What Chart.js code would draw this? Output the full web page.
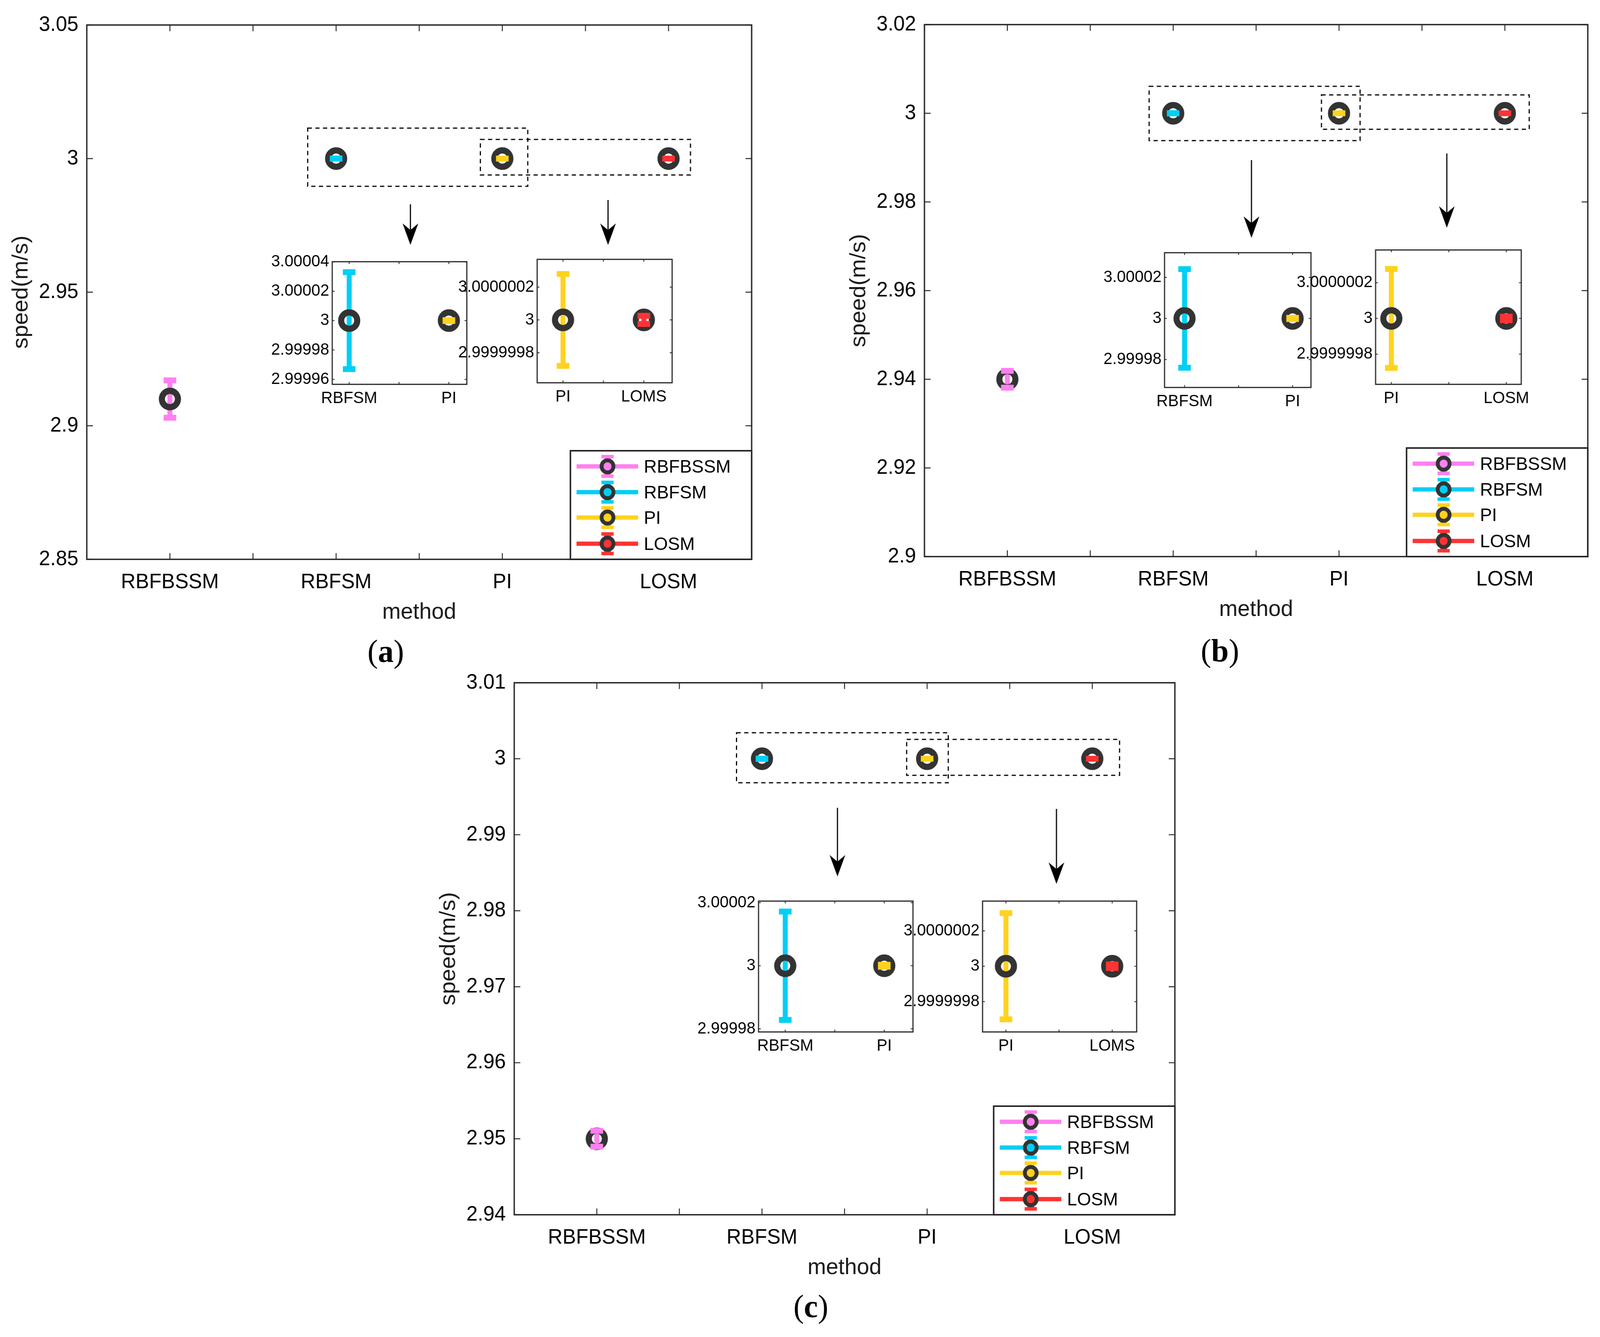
<!DOCTYPE html>
<html><head><meta charset="utf-8">
<script src="https://cdn.jsdelivr.net/npm/chart.js@4.4.1/dist/chart.umd.min.js"></script>
<style>
html,body{margin:0;padding:0;background:#fff;overflow:hidden;}
#page{width:4185px;height:3423px;position:relative;overflow:hidden;background:#fff;transform-origin:0 0;}
canvas{position:absolute;}
.plab{position:absolute;font-family:'Liberation Serif','DejaVu Serif',serif;font-size:82px;color:#000;transform:translate(-50%,-50%);line-height:1;white-space:nowrap;}
.plab b{font-weight:bold;}
</style></head><body>
<div id="page">
<canvas id="mainA"></canvas>
<canvas id="mainB"></canvas>
<canvas id="mainC"></canvas>
<canvas id="insA1"></canvas>
<canvas id="insA2"></canvas>
<canvas id="insB1"></canvas>
<canvas id="insB2"></canvas>
<canvas id="insC1"></canvas>
<canvas id="insC2"></canvas>
<div class="plab" style="left:1009px;top:1668px">(<b>a</b>)</div>
<div class="plab" style="left:3191px;top:1666px">(<b>b</b>)</div>
<div class="plab" style="left:2121px;top:3345px">(<b>c</b>)</div>
</div>
<script>
// ---------------- data ----------------
const methods = ['RBFBSSM', 'RBFSM', 'PI', 'LOSM'];
const seriesColors = ['#ff80f0', '#00cff5', '#ffd21e', '#ff3333'];

const speedA = [2.91, 3, 3, 3];
const errA   = [0.007, 0.000033, 0.00000028, 0.000000025];
const speedB = [2.94, 3, 3, 3];
const errB   = [0.0019, 0.000024, 0.000000277, 0.00000001];
const speedC = [2.95, 3, 3, 3];
const errC   = [0.00105, 0.0000172, 0.0000003, 0.00000001];

const xTickVals = [0.5, 1, 1.5, 2, 2.5, 3, 3.5, 4, 4.5];
const xTickLabels = ['', 'RBFBSSM', '', 'RBFSM', '', 'PI', '', 'LOSM', ''];

const yTicksA = [2.85, 2.9, 2.95, 3, 3.05];
const yLabelsA = ['2.85', '2.9', '2.95', '3', '3.05'];
const yTicksB = [2.9, 2.92, 2.94, 2.96, 2.98, 3, 3.02];
const yLabelsB = ['2.9', '2.92', '2.94', '2.96', '2.98', '3', '3.02'];
const yTicksC = [2.94, 2.95, 2.96, 2.97, 2.98, 2.99, 3, 3.01];
const yLabelsC = ['2.94', '2.95', '2.96', '2.97', '2.98', '2.99', '3', '3.01'];

const insetXTicks = [1, 1.5, 2];
const insetLabels1 = ['RBFSM', '', 'PI'];
const insetLabels2a = ['PI', '', 'LOMS'];
const insetLabels2b = ['PI', '', 'LOSM'];
const insetLabels2c = ['PI', '', 'LOMS'];

const iTicksA1 = [2.99996, 2.99998, 3, 3.00002, 3.00004];
const iLabelsA1 = ['2.99996', '2.99998', '3', '3.00002', '3.00004'];
const iTicksA2 = [2.9999998, 3, 3.0000002];
const iLabelsA2 = ['2.9999998', '3', '3.0000002'];
const iTicksB1 = [2.99998, 3, 3.00002];
const iLabelsB1 = ['2.99998', '3', '3.00002'];
const iTicksB2 = [2.9999998, 3, 3.0000002];
const iLabelsB2 = ['2.9999998', '3', '3.0000002'];
const iTicksC1 = [2.99998, 3, 3.00002];
const iLabelsC1 = ['2.99998', '3', '3.00002'];
const iTicksC2 = [2.9999998, 3, 3.0000002];
const iLabelsC2 = ['2.9999998', '3', '3.0000002'];

// zoom-region annotations (data units): boxes [x1, x2, y1, y2], arrows [x, yStart, yEnd]
const zoomBoxesA = [[1.829, 3.153, 2.98962, 3.01140], [2.868, 4.132, 2.99386, 3.00716]];
const zoomArrowsA = [[2.447, 2.98289, 2.96769], [3.636, 2.98450, 2.96769]];
const zoomBoxesB = [[1.855, 3.127, 2.99383, 3.00608], [2.894, 4.147, 2.99639, 3.00414]];
const zoomArrowsB = [[2.472, 2.98943, 2.97189], [3.650, 2.99093, 2.97419]];
const zoomBoxesC = [[1.846, 3.128, 2.99684, 3.00342], [2.876, 4.165, 2.99782, 3.00255]];
const zoomArrowsC = [[2.457, 2.99355, 2.98451], [3.783, 2.99340, 2.98353]];

// ---------------- drawing helpers ----------------
const FONT = "'Liberation Sans', Arial, sans-serif";
const AX = '#262626';
const RING = '#333333';

function barGeom(chart, errs) {
  const xs = chart.scales.x, ys = chart.scales.y;
  return chart.data.datasets.map((ds, i) => {
    const p = ds.data[0];
    return { px: xs.getPixelForValue(p.x),
             yt: ys.getPixelForValue(p.y + errs[i]),
             yb: ys.getPixelForValue(p.y - errs[i]) };
  });
}
function drawStems(chart, errs, colors) {
  const ctx = chart.ctx;
  ctx.save(); ctx.lineCap = 'butt'; ctx.lineWidth = 13;
  barGeom(chart, errs).forEach((g, i) => {
    ctx.strokeStyle = colors[i];
    ctx.beginPath(); ctx.moveTo(g.px, g.yt); ctx.lineTo(g.px, g.yb); ctx.stroke();
  });
  ctx.restore();
}
function drawCaps(chart, errs, colors) {
  const ctx = chart.ctx;
  ctx.save(); ctx.lineCap = 'butt'; ctx.lineWidth = 15;
  barGeom(chart, errs).forEach((g, i) => {
    ctx.strokeStyle = colors[i];
    ctx.beginPath();
    ctx.moveTo(g.px - 16.5, g.yt); ctx.lineTo(g.px + 16.5, g.yt);
    ctx.moveTo(g.px - 16.5, g.yb); ctx.lineTo(g.px + 16.5, g.yb);
    ctx.stroke();
  });
  ctx.restore();
}

function drawFrame(chart, xt, yt, tickLen, lw) {
  const ctx = chart.ctx, a = chart.chartArea, xs = chart.scales.x, ys = chart.scales.y;
  ctx.save();
  ctx.strokeStyle = AX;
  ctx.lineWidth = lw;
  ctx.strokeRect(a.left, a.top, a.right - a.left, a.bottom - a.top);
  ctx.lineWidth = Math.max(2, lw * 0.7);
  ctx.beginPath();
  xt.forEach(v => {
    const x = xs.getPixelForValue(v);
    ctx.moveTo(x, a.bottom); ctx.lineTo(x, a.bottom - tickLen);
    ctx.moveTo(x, a.top); ctx.lineTo(x, a.top + tickLen);
  });
  yt.forEach(v => {
    const y = ys.getPixelForValue(v);
    ctx.moveTo(a.left, y); ctx.lineTo(a.left + tickLen, y);
    ctx.moveTo(a.right, y); ctx.lineTo(a.right - tickLen, y);
  });
  ctx.stroke();
  ctx.restore();
}

function drawZoomMarks(chart, boxes, arrows) {
  const ctx = chart.ctx, xs = chart.scales.x, ys = chart.scales.y;
  ctx.save();
  ctx.strokeStyle = '#000';
  ctx.lineWidth = 3;
  ctx.setLineDash([11, 9]);
  boxes.forEach(b => {
    const x1 = xs.getPixelForValue(b[0]), x2 = xs.getPixelForValue(b[1]);
    const y1 = ys.getPixelForValue(b[3]), y2 = ys.getPixelForValue(b[2]);
    ctx.strokeRect(x1, y1, x2 - x1, y2 - y1);
  });
  ctx.setLineDash([]);
  arrows.forEach(ar => {
    const x = xs.getPixelForValue(ar[0]);
    const y1 = ys.getPixelForValue(ar[1]), y2 = ys.getPixelForValue(ar[2]);
    ctx.lineWidth = 3;
    ctx.beginPath(); ctx.moveTo(x, y1); ctx.lineTo(x, y2 - 30); ctx.stroke();
    ctx.fillStyle = '#000';
    ctx.beginPath();
    ctx.moveTo(x, y2);
    ctx.lineTo(x - 20.5, y2 - 55);
    ctx.lineTo(x, y2 - 38);
    ctx.lineTo(x + 20.5, y2 - 55);
    ctx.closePath();
    ctx.fill();
  });
  ctx.restore();
}

function drawLegend(chart, colors) {
  const ctx = chart.ctx, a = chart.chartArea;
  const W = 474, H = 278;
  const bx = a.right - W, by = a.bottom - H;
  const rows = [40, 106, 171, 238];
  ctx.save();
  ctx.fillStyle = '#fff';
  ctx.fillRect(bx, by, W, H);
  ctx.strokeStyle = AX;
  ctx.lineWidth = 4;
  ctx.strokeRect(bx, by, W, H);
  methods.forEach((m, i) => {
    const y = by + rows[i];
    const mx = bx + 97;
    ctx.strokeStyle = colors[i];
    ctx.lineWidth = 11;
    ctx.beginPath(); ctx.moveTo(bx + 16, y); ctx.lineTo(bx + 177, y); ctx.stroke();
    ctx.lineWidth = 18;
    ctx.beginPath(); ctx.moveTo(mx, y - 29); ctx.lineTo(mx, y + 29); ctx.stroke();
    ctx.lineWidth = 9;
    ctx.beginPath();
    ctx.moveTo(mx - 16, y - 25); ctx.lineTo(mx + 16, y - 25);
    ctx.moveTo(mx - 16, y + 25); ctx.lineTo(mx + 16, y + 25);
    ctx.stroke();
    ctx.beginPath(); ctx.arc(mx, y, 15.5, 0, Math.PI * 2);
    ctx.fillStyle = colors[i]; ctx.fill();
    ctx.strokeStyle = RING; ctx.lineWidth = 10; ctx.stroke();
    ctx.fillStyle = '#000';
    ctx.font = '47px ' + FONT;
    ctx.textBaseline = 'middle';
    ctx.textAlign = 'left';
    ctx.fillText(m, bx + 192, y + 3);
  });
  ctx.restore();
}

function makeDatasets(means, idx, xs) {
  return idx.map((k, j) => ({
    label: methods[k],
    data: [{ x: xs[j], y: means[k] }],
    pointRadius: 21, pointHoverRadius: 21,
    pointBorderWidth: 16, pointHoverBorderWidth: 16,
    pointBorderColor: RING,
    pointBackgroundColor: 'rgba(0,0,0,0)',
    clip: false
  }));
}

function place(canvas, x, y, w, h) {
  canvas.width = w; canvas.height = h;
  canvas.style.left = x + 'px'; canvas.style.top = y + 'px';
  canvas.style.width = w + 'px'; canvas.style.height = h + 'px';
}

// ---------------- main panels ----------------
function mainPanel(id, area, means, errs, yTicks, yLabels, boxes, arrows) {
  const yW = 230, padTop = 60, padRight = 36, xH = 200;
  const cv = document.getElementById(id);
  place(cv, area.L - yW, area.T - padTop, yW + (area.R - area.L) + padRight, padTop + (area.B - area.T) + xH);
  new Chart(cv, {
    type: 'scatter',
    data: { datasets: makeDatasets(means, [0, 1, 2, 3], [1, 2, 3, 4]) },
    options: {
      responsive: false, animation: false, devicePixelRatio: 1, events: [],
      layout: { padding: { left: 0, top: padTop, right: padRight, bottom: 0 } },
      plugins: { legend: { display: false }, tooltip: { enabled: false } },
      scales: {
        x: {
          type: 'linear', min: 0.5, max: 4.5,
          afterBuildTicks: s => { s.ticks = xTickVals.map(v => ({ value: v })); },
          afterFit: s => { s.height = xH; },
          grid: { display: false, drawTicks: false }, border: { display: false },
          ticks: { autoSkip: false, maxRotation: 0, minRotation: 0, padding: 28, color: '#000',
                   font: { family: FONT, size: 53 }, callback: (v, i) => xTickLabels[i] },
          title: { display: true, text: 'method', color: '#1a1a1a', font: { family: FONT, size: 58 },
                   padding: { top: 0, bottom: 29 } }
        },
        y: {
          type: 'linear', min: yTicks[0], max: yTicks[yTicks.length - 1],
          afterBuildTicks: s => { s.ticks = yTicks.map(v => ({ value: v })); },
          afterFit: s => { s.width = yW; },
          grid: { display: false, drawTicks: false }, border: { display: false },
          ticks: { autoSkip: false, padding: 22, color: '#000',
                   font: { family: FONT, size: 53 }, callback: (v, i) => yLabels[i] },
          title: { display: true, text: 'speed(m/s)', color: '#1a1a1a', font: { family: FONT, size: 58 },
                   padding: { top: yW - 171 - 34.8, bottom: 0 } }
        }
      }
    },
    plugins: [{
      id: 'deco_' + id,
      beforeDatasetsDraw(chart) { drawStems(chart, errs, seriesColors); },
      afterDatasetsDraw(chart) {
        drawCaps(chart, errs, seriesColors);
        drawFrame(chart, xTickVals, yTicks, 16, 3.5);
        drawZoomMarks(chart, boxes, arrows);
        drawLegend(chart, seriesColors);
      }
    }]
  });
}

// ---------------- insets ----------------
function insetPanel(id, area, means, errs, idx, xr, yr, yTicks, yLabels, xLabels) {
  const yW = 230, padTop = 40, padRight = 20, xH = 90;
  const cv = document.getElementById(id);
  place(cv, area.L - yW, area.T - padTop, yW + (area.R - area.L) + padRight, padTop + (area.B - area.T) + xH);
  const e = idx.map(k => errs[k]);
  const c = idx.map(k => seriesColors[k]);
  new Chart(cv, {
    type: 'scatter',
    data: { datasets: makeDatasets(means, idx, [1, 2]) },
    options: {
      responsive: false, animation: false, devicePixelRatio: 1, events: [],
      layout: { padding: { left: 0, top: padTop, right: padRight, bottom: 0 } },
      plugins: { legend: { display: false }, tooltip: { enabled: false } },
      scales: {
        x: {
          type: 'linear', min: xr[0], max: xr[1],
          afterBuildTicks: s => { s.ticks = insetXTicks.map(v => ({ value: v })); },
          afterFit: s => { s.height = xH; },
          grid: { display: false, drawTicks: false }, border: { display: false },
          ticks: { autoSkip: false, maxRotation: 0, minRotation: 0, padding: 11, color: '#000',
                   font: { family: FONT, size: 42 }, callback: (v, i) => xLabels[i] }
        },
        y: {
          type: 'linear', min: yr[0], max: yr[1],
          afterBuildTicks: s => { s.ticks = yTicks.map(v => ({ value: v })); },
          afterFit: s => { s.width = yW; },
          grid: { display: false, drawTicks: false }, border: { display: false },
          ticks: { autoSkip: false, padding: 8, color: '#000',
                   font: { family: FONT, size: 42 }, callback: (v, i) => yLabels[i] }
        }
      }
    },
    plugins: [{
      id: 'ins_' + id,
      beforeDraw(chart) {
        const a = chart.chartArea, ctx = chart.ctx;
        ctx.save(); ctx.fillStyle = '#fff';
        ctx.fillRect(a.left, a.top, a.right - a.left, a.bottom - a.top); ctx.restore();
      },
      beforeDatasetsDraw(chart) { drawStems(chart, e, c); },
      afterDatasetsDraw(chart) { drawCaps(chart, e, c); drawFrame(chart, insetXTicks, yTicks, 6, 3); }
    }]
  });
}

mainPanel('mainA', { L: 227, T: 64, R: 1967, B: 1432 }, speedA, errA, yTicksA, yLabelsA, zoomBoxesA, zoomArrowsA);
mainPanel('mainB', { L: 2418, T: 63, R: 4154, B: 1425 }, speedB, errB, yTicksB, yLabelsB, zoomBoxesB, zoomArrowsB);
mainPanel('mainC', { L: 1345, T: 1748, R: 3074, B: 3110 }, speedC, errC, yTicksC, yLabelsC, zoomBoxesC, zoomArrowsC);

insetPanel('insA1', { L: 869, T: 670, R: 1238, B: 984 }, speedA, errA, [1, 2], [0.83, 2.18],
           [2.9999566, 3.0000401], iTicksA1, iLabelsA1, insetLabels1);
insetPanel('insA2', { L: 1405, T: 664, R: 1775, B: 980 }, speedA, errA, [2, 3], [0.68, 2.35],
           [2.999999617, 3.000000369], iTicksA2, iLabelsA2, insetLabels2a);
insetPanel('insB1', { L: 3046, T: 647, R: 3446, B: 992 }, speedB, errB, [1, 2], [0.815, 2.17],
           [2.9999664, 3.000032], iTicksB1, iLabelsB1, insetLabels1);
insetPanel('insB2', { L: 3598, T: 640, R: 3996, B: 984 }, speedB, errB, [2, 3], [0.863, 2.13],
           [2.999999631, 3.000000383], iTicksB2, iLabelsB2, insetLabels2b);
insetPanel('insC1', { L: 1984, T: 2307, R: 2405, B: 2642 }, speedC, errC, [1, 2], [0.73, 2.29],
           [2.999979, 3.0000205], iTicksC1, iLabelsC1, insetLabels1);
insetPanel('insC2', { L: 2570, T: 2307, R: 2990, B: 2642 }, speedC, errC, [2, 3], [0.78, 2.23],
           [2.999999629, 3.000000368], iTicksC2, iLabelsC2, insetLabels2c);

// fit the 4185x3423 page into the actual viewport when it is smaller
(function fit() {
  const sx = Math.min(1, window.innerWidth / 4185);
  const sy = Math.min(1, window.innerHeight / 3423);
  if (sx < 0.999 || sy < 0.999) {
    document.getElementById('page').style.transform = 'scale(' + sx + ',' + sy + ')';
  }
})();
</script>
</body></html>
